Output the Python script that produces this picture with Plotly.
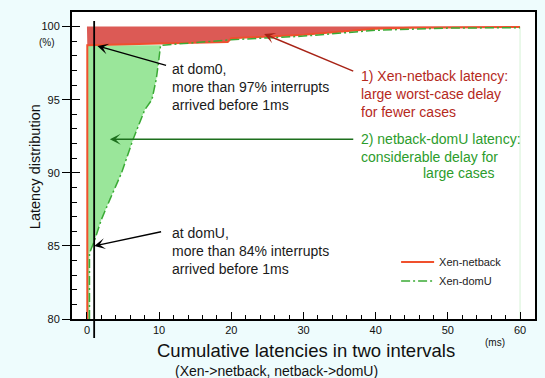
import plotly.graph_objects as go

# ---------------- data ----------------
netback_x = [0.05, 0.05, 10, 19.5, 20, 30, 40, 45, 60]
netback_y = [80, 98.72, 98.85, 98.95, 99.2, 99.45, 99.85, 99.92, 99.98]

domu_x = [0.35, 0.35, 1.0, 2.0, 3.2, 4.8, 6.4, 8.0, 9.0, 9.6, 9.9, 10.2, 20, 30, 40, 45, 50, 60]
domu_y = [80, 84.5, 85.3, 86.8, 88.2, 90.0, 92.3, 94.3, 95.0, 96.4, 97.5, 98.72, 99.1, 99.35, 99.75, 99.85, 99.9, 99.93]

x_ticks = [0, 10, 20, 30, 40, 50, 60]
y_ticks = [80, 85, 90, 95, 100]
top_pct = 100
marker_ms = 1.0           # the "1ms" reference line

X_RANGE = [-2.07, 62.07]
Y_RANGE = [80, 101]

FONT = "Liberation Sans, Arial, Helvetica, sans-serif"
RED_FILL = "#dc5a55"
GREEN_FILL = "#9ae69a"
RED_LINE = "#f0502d"
GREEN_LINE = "#3aaa35"
RED_TEXT = "#b5291c"
GREEN_TEXT = "#2c9c2c"

def paper_y(v):
    return (v - Y_RANGE[0]) / (Y_RANGE[1] - Y_RANGE[0])

fig = go.Figure()

# red area: between Xen-netback curve and 100%
n_knee = 1  # index where the netback curve reaches its knee
red_fx = netback_x[n_knee:] + [netback_x[-1], 0]
red_fy = netback_y[n_knee:] + [top_pct, top_pct]
fig.add_trace(go.Scatter(x=red_fx, y=red_fy, fill="toself", mode="lines",
                         line=dict(width=0), fillcolor=RED_FILL,
                         showlegend=False, hoverinfo="skip"))

# green area: between netback vertical and domU curve, below the knee
d_knee = 11
green_fx = netback_x[:n_knee + 1] + domu_x[:d_knee + 1][::-1]
green_fy = netback_y[:n_knee + 1] + domu_y[:d_knee + 1][::-1]
fig.add_trace(go.Scatter(x=green_fx, y=green_fy, fill="toself", mode="lines",
                         line=dict(width=0), fillcolor=GREEN_FILL,
                         showlegend=False, hoverinfo="skip"))

# faint closing edge at the end of the domU curve
fig.add_trace(go.Scatter(x=[domu_x[-1], domu_x[-1]], y=[domu_y[-1], Y_RANGE[0]],
                         mode="lines", line=dict(color="#d6f2d6", width=1),
                         showlegend=False, hoverinfo="skip"))

fig.add_trace(go.Scatter(x=netback_x, y=netback_y, mode="lines", name="Xen-netback",
                         line=dict(color=RED_LINE, width=2)))
fig.add_trace(go.Scatter(x=domu_x, y=domu_y, mode="lines", name="Xen-domU",
                         line=dict(color=GREEN_LINE, width=1.5, dash="9px,3px,2px,3px")))

# overlay axis trace (for inside ticks)
fig.add_trace(go.Scatter(x=[], y=[], yaxis="y2", showlegend=False, hoverinfo="skip"))

# vertical 1ms line (extends beyond plot area)
fig.add_shape(type="line", xref="x", yref="paper", x0=marker_ms, x1=marker_ms,
              y0=paper_y(78.7), y1=paper_y(100.39),
              line=dict(color="black", width=1.8))

def arrow(hx, hy, tx, ty, color):
    fig.add_annotation(x=hx, y=hy, ax=tx, ay=ty, xref="x", yref="y",
                       axref="x", ayref="y", text="", showarrow=True,
                       arrowhead=3, arrowsize=1.3, arrowwidth=1.4,
                       arrowcolor=color, standoff=0, startstandoff=0)

def label(x, y, text, color, size=14):
    fig.add_annotation(x=x, y=y, xref="x", yref="y", text=text, showarrow=False,
                       xanchor="left", yanchor="middle", align="left",
                       font=dict(family=FONT, size=size, color=color))

arrow(1.45, 98.68, 11.17, 97.32, "black")
label(11.5, 95.87, "at dom0,<br>more than 97% interrupts<br>arrived before 1ms", "#1a1a1a")

arrow(1.01, 85.0, 10.48, 85.99, "black")
label(11.5, 84.66, "at domU,<br>more than 84% interrupts<br>arrived before 1ms", "#1a1a1a")

arrow(24.55, 99.5, 37.1, 96.91, "#a82316")
label(37.66, 95.41, "1) Xen-netback latency:<br>large worst-case delay<br>for fewer cases", RED_TEXT)

arrow(3.17, 92.3, 37.1, 92.3, "#1d6f1d")
label(37.66, 91.70, "2) netback-domU latency:<br>considerable delay for", GREEN_TEXT)
label(46.34, 89.96, "large cases", GREEN_TEXT)

# axis titles & units
def ptext(x, y, text, size, angle=0, color="#111"):
    fig.add_annotation(x=x, y=y, xref="paper", yref="paper", text=text, showarrow=False,
                       xanchor="center", yanchor="middle", textangle=angle,
                       font=dict(family=FONT, size=size, color=color))

ptext(0.505, -0.101, "Cumulative latencies in two intervals", 18.5)
ptext(0.442, -0.168, "(Xen->netback, netback->domU)", 14)
ptext(-0.0796, 0.495, "Latency distribution", 14.5, angle=-90)
ptext(-0.0538, 0.902, "(%)", 10)
ptext(0.914, -0.075, "(ms)", 10)

axis_common = dict(showgrid=False, zeroline=False, linecolor="black", linewidth=2,
                   tickcolor="black", tickwidth=1.3,
                   tickfont=dict(family=FONT, size=11, color="#111"))

fig.update_layout(
    width=545, height=378,
    margin=dict(l=72, r=8, t=12, b=59),
    paper_bgcolor="#eefcfd", plot_bgcolor="white",
    font=dict(family=FONT),
    xaxis=dict(range=X_RANGE, tickmode="array", tickvals=x_ticks, ticks="inside",
               ticklen=7, mirror=True, showline=True,
               minor=dict(ticks="inside", ticklen=4, dtick=2, tickcolor="black", tickwidth=1),
               **axis_common),
    yaxis=dict(range=Y_RANGE, tickmode="array", tickvals=y_ticks, ticks="outside",
               ticklen=8, mirror=True, showline=True, **axis_common),
    yaxis2=dict(range=Y_RANGE, overlaying="y", side="left", tickmode="array",
                tickvals=y_ticks, ticks="inside", ticklen=8, tickcolor="black",
                tickwidth=1.3, showticklabels=False, showline=False, showgrid=False,
                zeroline=False,
                minor=dict(ticks="inside", ticklen=5, dtick=1, tickcolor="black", tickwidth=1)),
    legend=dict(x=0.70, y=0.233, xanchor="left", yanchor="top",
                bgcolor="rgba(0,0,0,0)", itemwidth=33,
                font=dict(family=FONT, size=11, color="#222")),
    showlegend=True,
)

fig.write_html("out.html")
